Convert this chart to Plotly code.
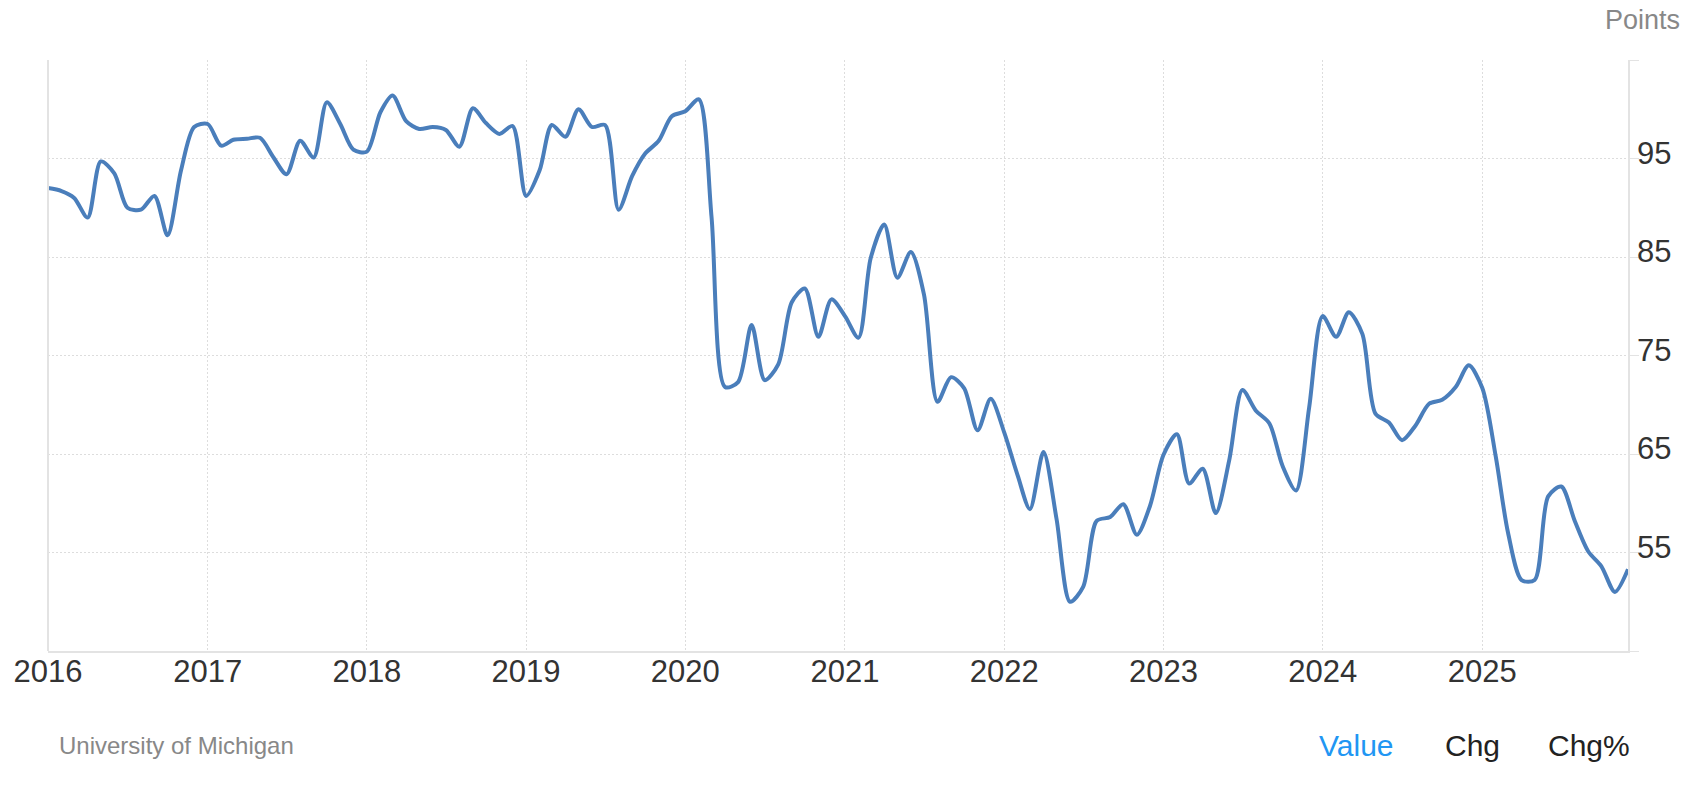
import plotly.graph_objects as go
import pandas as pd

dates = pd.date_range("2016-01-01", "2025-12-01", freq="MS")

v2016 = [92.0, 91.7, 91.0, 89.0, 94.7, 93.5, 90.0, 89.8, 91.2, 87.2, 93.8, 98.2]
v2017 = [98.5, 96.3, 96.9, 97.0, 97.1, 95.1, 93.4, 96.8, 95.1, 100.7, 98.5, 95.9]
v2018 = [95.7, 99.7, 101.4, 98.8, 98.0, 98.2, 97.9, 96.2, 100.1, 98.6, 97.5, 98.3]
v2019 = [91.2, 93.8, 98.4, 97.2, 100.0, 98.2, 98.4, 89.8, 93.2, 95.5, 96.8, 99.3]
v2020 = [99.8, 101.0, 89.1, 71.8, 72.3, 78.1, 72.5, 74.1, 80.4, 81.8, 76.9, 80.7]
v2021 = [79.0, 76.8, 84.9, 88.3, 82.9, 85.5, 81.2, 70.3, 72.8, 71.7, 67.4, 70.6]
v2022 = [67.2, 62.8, 59.4, 65.2, 58.4, 50.0, 51.5, 58.2, 58.6, 59.9, 56.8, 59.7]
v2023 = [64.9, 67.0, 62.0, 63.5, 59.0, 64.4, 71.5, 69.4, 68.1, 63.8, 61.3, 69.7]
v2024 = [79.0, 76.9, 79.4, 77.2, 69.1, 68.2, 66.4, 67.9, 70.1, 70.5, 71.8, 74.0]
v2025 = [71.7, 64.7, 57.0, 52.2, 52.2, 60.7, 61.7, 58.2, 55.1, 53.6, 51.0, 53.3]

values = v2016 + v2017 + v2018 + v2019 + v2020 + v2021 + v2022 + v2023 + v2024 + v2025

year_ticks = [f"{y}-01-01" for y in range(2016, 2026)]
year_labels = [str(y) for y in range(2016, 2026)]
y_ticks = [45, 55, 65, 75, 85, 95, 105]
y_label_vals = [55, 65, 75, 85, 95]
y_label_text = ["55", "65", "75", "85", "95"]

FONT = "Liberation Sans, Arial, sans-serif"

W, H = 1694, 788
L, R, T, B = 48, 1628, 60, 651


def px(x):
    return (x - L) / (R - L)


def py(y):
    return (B - y) / (B - T)


fig = go.Figure()
fig.add_trace(go.Scatter(
    x=dates, y=values, mode="lines",
    line=dict(color="#4a7ebb", width=4, shape="spline", smoothing=0.8),
    hoverinfo="x+y", showlegend=False,
))


def ann(text, x, y, anchor, size, color):
    return dict(text=text, xref="paper", yref="paper", x=px(x), y=py(y),
                xanchor=anchor, yanchor="middle", showarrow=False,
                font=dict(family=FONT, size=size, color=color))


annotations = [
    ann("Points", 1682, 20, "right", 27, "#888888"),
    ann("University of Michigan", 57, 745, "left", 24, "#888888"),
    ann("Value", 1317, 745, "left", 30, "#2196f3"),
    ann("Chg", 1443, 745, "left", 30, "#222222"),
    ann("Chg%", 1546, 745, "left", 30, "#222222"),
]
for v, t in zip(y_label_vals, y_label_text):
    annotations.append(dict(
        text=t, xref="paper", yref="y", x=1, y=v, xanchor="left", yanchor="middle",
        xshift=7, yshift=5.5, showarrow=False,
        font=dict(family=FONT, size=31, color="#333333")))

fig.update_layout(
    width=W, height=H,
    margin=dict(l=L, r=W - R, t=T, b=H - B),
    paper_bgcolor="white", plot_bgcolor="white",
    font=dict(family=FONT, color="#333333"),
    xaxis=dict(
        range=["2016-01-01", "2025-12-01"],
        tickvals=year_ticks, ticktext=year_labels,
        tickfont=dict(size=31, color="#333333"),
        ticklabelstandoff=-8,
        showgrid=True, gridcolor="#dddddd", griddash="2px,2px", gridwidth=1,
        showline=True, linecolor="#e3e3e3", linewidth=2,
        mirror=False, ticks="", zeroline=False,
    ),
    yaxis=dict(
        range=[45, 105], side="right",
        tickvals=y_ticks, showticklabels=False,
        showgrid=True, gridcolor="#dddddd", griddash="2px,2px", gridwidth=1,
        showline=True, linecolor="#e3e3e3", linewidth=2,
        ticks="outside", ticklen=9, tickcolor="#e3e3e3", tickwidth=1,
        zeroline=False,
    ),
    shapes=[dict(type="line", xref="paper", yref="paper", x0=0, x1=0, y0=0, y1=1,
                 line=dict(color="#e3e3e3", width=2))],
    annotations=annotations,
)

fig.write_html("out.html", config={"displayModeBar": False},
               post_script="document.body.style.margin='0px';")
